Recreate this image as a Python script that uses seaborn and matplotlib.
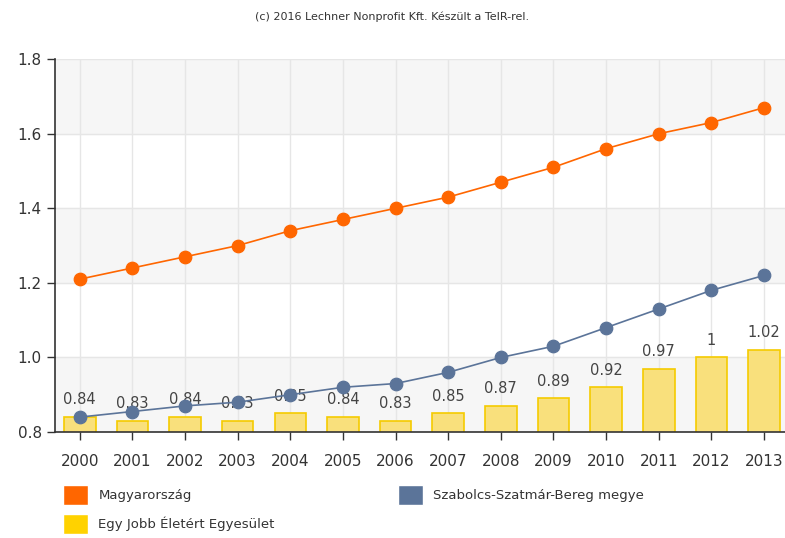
import matplotlib

matplotlib.use("Agg")
import matplotlib.pyplot as plt
import seaborn as sns
import pandas as pd
from matplotlib.patches import Patch

years = [str(y) for y in range(2000, 2014)]
magyarorszag = [1.21, 1.24, 1.27, 1.30, 1.34, 1.37, 1.40, 1.43, 1.47, 1.51, 1.56, 1.60, 1.63, 1.67]
szabolcs = [0.84, 0.855, 0.87, 0.88, 0.90, 0.92, 0.93, 0.96, 1.00, 1.03, 1.08, 1.13, 1.18, 1.22]
egyesulet = [0.84, 0.83, 0.84, 0.83, 0.85, 0.84, 0.83, 0.85, 0.87, 0.89, 0.92, 0.97, 1.00, 1.02]
y_ticks = [0.8, 1.0, 1.2, 1.4, 1.6, 1.8]

labels = ["Magyarország", "Egy Jobb Életért Egyesület", "Szabolcs-Szatmár-Bereg megye"]
orange = "#FF6600"
blue = "#5B7499"
yellow = "#FFD200"

df = pd.DataFrame({"year": years, "hu": magyarorszag, "szsz": szabolcs, "ege": egyesulet})

sns.set_style("white")
plt.rcParams["font.family"] = ["DejaVu Sans"]

fig = plt.figure(figsize=(7.85, 5.38), dpi=100)
ax = fig.add_axes([0.0701, 0.197, 0.93, 0.693])

# alternating background bands
for i in range(len(y_ticks) - 1):
    if i % 2 == 0:
        ax.axhspan(y_ticks[i], y_ticks[i + 1], color="#F6F6F6", zorder=0)

sns.barplot(data=df, x="year", y="ege", color="#F9E07C", edgecolor="#F5CB00",
            linewidth=1.2, width=0.6, saturation=1, ax=ax, zorder=2)
ax.bar_label(ax.containers[0], labels=[f"{v:g}" for v in egyesulet],
             padding=7, fontsize=10.5, color="#444444")

sns.pointplot(data=df, x="year", y="szsz", color=blue, markers="o", markersize=9,
              linewidth=1.2, ax=ax, zorder=3)
ax.lines[-1].set_color("#8098B8")
ax.lines[-1].set_markerfacecolor(blue)
ax.lines[-1].set_markeredgecolor(blue)
sns.pointplot(data=df, x="year", y="hu", color=orange, markers="o", markersize=9,
              linewidth=1.2, ax=ax, zorder=4)
ax.lines[-1].set_color("#FF8030")
ax.lines[-1].set_markerfacecolor(orange)
ax.lines[-1].set_markeredgecolor(orange)

ax.set_ylim(0.8, 1.8)
ax.set_xlim(-0.47, 13.4)
ax.set_yticks(y_ticks)
ax.set_yticklabels([f"{v:.1f}" for v in y_ticks])
ax.set_xlabel("")
ax.set_ylabel("")
ax.grid(True, color="#E6E6E6", linewidth=1, zorder=1)
ax.set_axisbelow(True)
for side in ["top", "right"]:
    ax.spines[side].set_visible(False)
ax.spines["left"].set_color("#333333")
ax.spines["bottom"].set_color("#333333")
ax.spines["left"].set_linewidth(1.2)
ax.spines["bottom"].set_linewidth(1.2)
ax.tick_params(axis="both", length=6, width=1, color="#333333", labelsize=11,
               labelcolor="#333333", direction="out", left=True, bottom=True)
ax.tick_params(axis="x", pad=10)

fig.text(0.5, 0.968, "(c) 2016 Lechner Nonprofit Kft. Készült a TeIR-rel.",
         ha="center", va="center", fontsize=8, color="#333333")

handles = [Patch(facecolor=orange), Patch(facecolor=yellow), Patch(facecolor=blue)]
fig.legend(handles, labels, ncol=2, loc="upper left", bbox_to_anchor=(0.08, 0.0985),
           frameon=False, fontsize=9.5, handlelength=1.9, handleheight=1.9,
           labelspacing=0.75, columnspacing=9.3, handletextpad=0.8,
           borderaxespad=0, borderpad=0, labelcolor="#333333")

fig.savefig("out.png", dpi=100)
